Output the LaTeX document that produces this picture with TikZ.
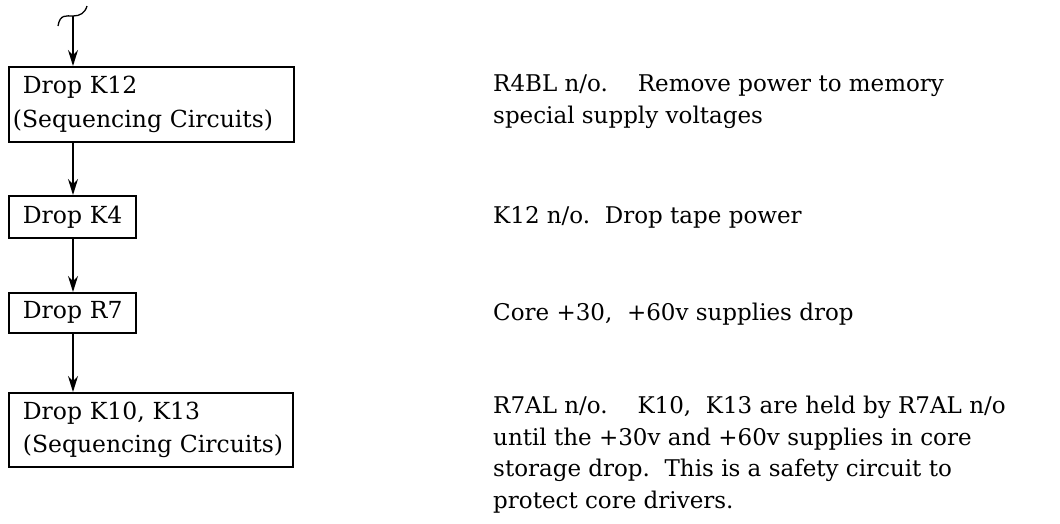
\documentclass[tikz,border=0pt]{standalone}
\usepackage{fontspec}
\usepackage{tikz}
\usetikzlibrary{arrows.meta,positioning}

\newfontfamily\docfont{DejaVu Serif}

\tikzset{
  stepbox/.style={draw, line width=1.7pt, anchor=north west, align=left,
    inner xsep=14pt, inner ysep=0pt, font=\docfont\fontsize{23.5}{31.5}\selectfont},
  note/.style={anchor=base west, align=left, inner sep=0pt,
    font=\docfont\fontsize{23}{31.5}\selectfont},
  flow/.style={-{Stealth[length=16pt,width=10pt]}, line width=1.3pt}
}

\begin{document}
\begin{tikzpicture}[x=1pt, y=-1pt]
  \useasboundingbox (0,0) rectangle (1060,523);

  % Define coordinates for nodes
  \coordinate (in) at (73,16);
  \node[stepbox, text width=257pt, minimum height=75pt] (k12) at (8,66)
    {\mbox{Drop K12}\\[2pt]\mbox{\hspace*{-10pt}(Sequencing Circuits)}};
  \node[stepbox, text width=99pt, minimum height=42pt] (k4) at (8,195) {\mbox{Drop K4}};
  \node[stepbox, text width=99pt, minimum height=40pt] (r7) at (8,292) {\mbox{Drop R7}};
  \node[stepbox, text width=256pt, minimum height=74pt] (k10) at (8,392)
    {\mbox{Drop K10, K13}\\[2pt]\mbox{(Sequencing Circuits)}};

  \node[note] (t1) at (493,123)
    {R4BL n/o.\hspace{1.3em}Remove power to memory\\special supply voltages};
  \node[note] (t2) at (493,223) {K12 n/o.\ \ Drop tape power};
  \node[note] (t3) at (493,320) {Core +30,\ \ +60v supplies drop};
  \node[note] (t4) at (493,508)
    {R7AL n/o.\hspace{1.3em}K10,\ \ K13 are held by R7AL n/o\\until the +30v and +60v supplies in core\\storage drop.\ \ This is a safety circuit to\\protect core drivers.};

  % Draw arrows between nodes
  \draw[line width=1.3pt] (58,26) .. controls (60,14) and (66,16) .. (in)
    .. controls (80,16) and (85,13) .. (87,6);
  \draw[flow] (in) -- (in |- k12.north);
  \draw[flow] (in |- k12.south) -- (in |- k4.north);
  \draw[flow] (in |- k4.south) -- (in |- r7.north);
  \draw[flow] (in |- r7.south) -- (in |- k10.north);
\end{tikzpicture}
\end{document}
